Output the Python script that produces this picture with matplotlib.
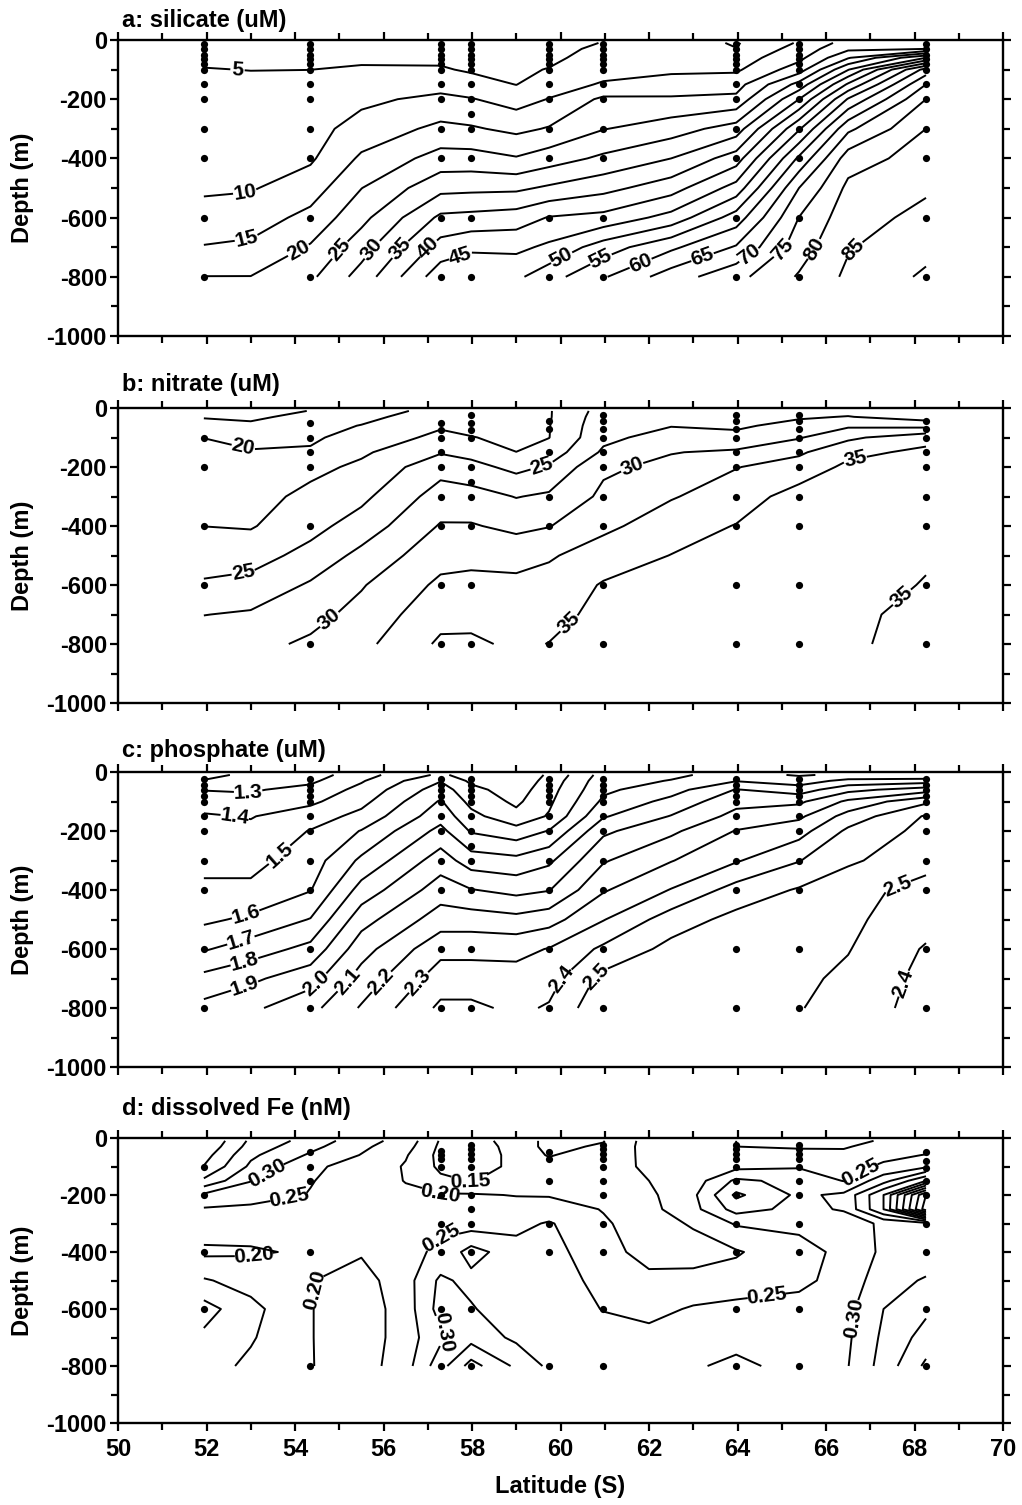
import numpy as np
import matplotlib
matplotlib.use('Agg')
from matplotlib import pyplot as plt
from matplotlib.ticker import MultipleLocator

plt.rcParams['font.family'] = ['Liberation Sans', 'DejaVu Sans']
plt.rcParams['font.weight'] = 'bold'
plt.rcParams['axes.unicode_minus'] = False

# stations (deg S) where samples were taken
STATION_LATS = [51.94, 54.35, 57.29, 57.98, 59.74, 60.97, 63.97, 65.39, 68.26]

# gridded section values (one list per latitude column)
GRID_LATS = [51.94, 53.0, 54.35, 55.5, 57.29, 57.98, 59.0, 59.74, 60.97, 62.5, 63.97, 65.39, 66.5, 68.26]
GRID_DEPTHS = [10, 30, 60, 100, 150, 200, 300, 400, 500, 600, 700, 800]

SILICATE = [
    [3.5, 4.0, 4.5, 5.1, 5.7, 6.3, 7.4, 8.5, 9.4, 11.5, 15.3, 20.1],
    [3.5, 4.0, 4.5, 4.95, 5.6, 6.2, 7.3, 8.4, 9.6, 12.5, 16.0, 20.1],
    [3.5, 4.0, 4.5, 4.98, 6.0, 6.8, 8.2, 9.3, 12.5, 16.5, 20.5, 24.0],
    [3.3, 3.6, 4.2, 5.5, 7.3, 8.9, 12.0, 15.8, 19.9, 23.5, 27.8, 32.0],
    [3.0, 3.3, 4.0, 5.5, 8.0, 11.3, 16.2, 22.0, 28.5, 36.0, 42.0, 48.0],
    [3.0, 3.3, 3.8, 4.4, 7.0, 10.3, 15.6, 22.0, 28.8, 36.5, 44.0, 49.5],
    [3.0, 3.3, 3.7, 4.2, 4.9, 7.9, 13.8, 20.4, 29.0, 37.4, 43.8, 49.0],
    [3.0, 3.5, 4.0, 5.2, 7.7, 10.2, 15.4, 22.6, 30.8, 40.3, 46.0, 53.0],
    [5.2, 6.0, 7.0, 8.2, 10.5, 16.0, 19.8, 26.0, 33.4, 41.5, 52.5, 59.5],
    [7.0, 7.5, 8.3, 9.3, 11.6, 15.8, 22.6, 30.0, 37.8, 46.8, 59.0, 67.5],
    [4.6, 5.1, 7.5, 9.2, 13.0, 16.2, 27.3, 37.5, 47.0, 57.3, 65.5, 73.5],
    [10.5, 12.0, 13.6, 17.6, 26.7, 35.0, 49.4, 61.0, 70.0, 75.1, 77.6, 80.5],
    [17.0, 19.0, 24.5, 34.7, 45.8, 55.5, 68.9, 77.6, 81.2, 82.9, 84.6, 86.0],
    [16.0, 20.0, 40.0, 62.0, 70.0, 75.0, 80.0, 82.2, 84.3, 86.4, 88.5, 90.8],
]

NITRATE = [
    [16.5, 17.3, 18.5, 19.98, 20.4, 20.8, 21.6, 22.48, 23.9, 25.3, 27.45, 29.0],
    [16.0, 17.0, 18.0, 19.2, 20.2, 20.7, 21.5, 22.3, 24.0, 25.8, 27.8, 29.3],
    [17.6, 18.3, 19.0, 19.6, 20.3, 21.8, 23.2, 24.2, 25.8, 27.8, 29.2, 30.4],
    [18.5, 19.2, 20.1, 21.0, 22.1, 23.0, 24.4, 26.1, 28.2, 29.8, 30.8, 31.8],
    [21.0, 21.6, 22.2, 23.1, 24.8, 26.6, 28.6, 30.2, 31.6, 33.0, 34.2, 35.4],
    [20.8, 21.3, 21.8, 22.6, 24.2, 25.8, 28.5, 30.2, 31.8, 33.2, 34.3, 35.4],
    [20.3, 20.8, 21.3, 21.9, 22.52, 24.3, 27.4, 29.4, 31.6, 33.1, 34.0, 34.6],
    [22.3, 22.3, 22.4, 22.45, 23.6, 25.3, 27.9, 29.9, 32.2, 33.5, 34.3, 35.05],
    [26.0, 26.3, 26.6, 26.9, 27.9, 29.6, 30.5, 31.9, 33.8, 35.2, 35.6, 35.8],
    [26.6, 27.0, 27.4, 28.5, 29.9, 30.6, 32.3, 33.9, 35.05, 35.5, 35.7, 35.8],
    [26.2, 26.6, 27.1, 28.2, 30.4, 32.4, 33.8, 35.1, 35.6, 35.8, 35.8, 35.8],
    [26.5, 27.2, 28.3, 29.8, 32.1, 33.6, 36.0, 35.8, 35.9, 35.8, 35.6, 35.4],
    [26.8, 27.6, 29.6, 32.0, 34.4, 35.5, 35.9, 36.0, 35.9, 35.7, 35.3, 35.2],
    [25.2, 26.3, 29.2, 34.2, 35.5, 35.6, 35.6, 35.4, 35.2, 34.9, 34.6, 34.55],
]

PHOSPHATE = [
    [1.15, 1.21, 1.295, 1.36, 1.41, 1.43, 1.47, 1.52, 1.58, 1.69, 1.83, 1.93],
    [1.24, 1.27, 1.29, 1.33, 1.395, 1.42, 1.47, 1.52, 1.62, 1.75, 1.88, 1.98],
    [1.25, 1.28, 1.33, 1.38, 1.45, 1.505, 1.55, 1.595, 1.705, 1.83, 1.96, 2.07],
    [1.36, 1.39, 1.43, 1.47, 1.53, 1.605, 1.72, 1.84, 1.96, 2.06, 2.14, 2.21],
    [1.52, 1.595, 1.65, 1.71, 1.76, 1.83, 1.95, 2.05, 2.15, 2.27, 2.35, 2.42],
    [1.45, 1.48, 1.53, 1.57, 1.63, 1.69, 1.85, 2.005, 2.15, 2.27, 2.35, 2.42],
    [1.4, 1.42, 1.45, 1.48, 1.53, 1.64, 1.83, 1.97, 2.13, 2.27, 2.34, 2.38],
    [1.52, 1.54, 1.56, 1.58, 1.61, 1.705, 1.88, 1.995, 2.16, 2.305, 2.36, 2.41],
    [1.74, 1.76, 1.78, 1.82, 1.89, 1.98, 2.09, 2.19, 2.295, 2.42, 2.53, 2.58],
    [1.78, 1.805, 1.86, 1.93, 2.005, 2.08, 2.195, 2.305, 2.45, 2.53, 2.56, 2.57],
    [1.84, 1.895, 2.005, 2.07, 2.13, 2.205, 2.29, 2.44, 2.53, 2.56, 2.57, 2.57],
    [1.79, 1.85, 1.95, 2.08, 2.18, 2.26, 2.395, 2.51, 2.54, 2.54, 2.52, 2.505],
    [1.82, 1.93, 2.07, 2.22, 2.34, 2.42, 2.495, 2.52, 2.52, 2.505, 2.48, 2.46],
    [1.805, 1.95, 2.15, 2.38, 2.51, 2.53, 2.52, 2.48, 2.44, 2.39, 2.37, 2.36],
]

FE_LATS = [51.94, 53.0, 54.35, 55.5, 56.5, 57.29, 57.98, 59.0, 59.74, 60.97, 62.0, 63.0, 63.97, 65.39, 66.4, 67.3, 68.26]
FE_DEPTHS = [10, 30, 60, 100, 150, 200, 250, 300, 400, 500, 600, 700, 800]
IRON = [
    [0.50, 0.49, 0.47, 0.448, 0.39, 0.29, 0.245, 0.23, 0.19, 0.255, 0.32, 0.29, 0.27],
    [0.39, 0.38, 0.36, 0.34, 0.302, 0.27, 0.24, 0.22, 0.195, 0.23, 0.265, 0.255, 0.24],
    [0.33, 0.315, 0.293, 0.255, 0.252, 0.248, 0.235, 0.225, 0.206, 0.202, 0.202, 0.202, 0.202],
    [0.27, 0.26, 0.248, 0.24, 0.23, 0.225, 0.22, 0.215, 0.205, 0.18, 0.17, 0.17, 0.175],
    [0.23, 0.22, 0.205, 0.195, 0.198, 0.21, 0.215, 0.22, 0.235, 0.23, 0.225, 0.225, 0.23],
    [0.145, 0.14, 0.135, 0.14, 0.16, 0.205, 0.225, 0.24, 0.26, 0.31, 0.32, 0.29, 0.33],
    [0.13, 0.12, 0.12, 0.13, 0.148, 0.205, 0.215, 0.225, 0.32, 0.285, 0.305, 0.33, 0.42],
    [0.17, 0.17, 0.165, 0.16, 0.165, 0.198, 0.22, 0.235, 0.27, 0.26, 0.265, 0.29, 0.34],
    [0.14, 0.14, 0.148, 0.16, 0.175, 0.197, 0.22, 0.255, 0.27, 0.275, 0.28, 0.285, 0.29],
    [0.148, 0.155, 0.165, 0.175, 0.185, 0.19, 0.198, 0.205, 0.215, 0.235, 0.248, 0.27, 0.28],
    [0.22, 0.22, 0.215, 0.21, 0.2, 0.19, 0.185, 0.18, 0.185, 0.21, 0.235, 0.265, 0.28],
    [0.22, 0.215, 0.21, 0.205, 0.225, 0.24, 0.235, 0.205, 0.18, 0.215, 0.255, 0.285, 0.295],
    [0.2, 0.2, 0.205, 0.235, 0.31, 0.36, 0.32, 0.255, 0.195, 0.22, 0.265, 0.285, 0.31],
    [0.18, 0.195, 0.215, 0.245, 0.285, 0.29, 0.285, 0.26, 0.235, 0.24, 0.265, 0.275, 0.285],
    [0.185, 0.196, 0.21, 0.225, 0.248, 0.31, 0.305, 0.27, 0.26, 0.265, 0.28, 0.285, 0.29],
    [0.205, 0.215, 0.235, 0.26, 0.33, 0.45, 0.45, 0.31, 0.31, 0.33, 0.35, 0.36, 0.37],
    [0.22, 0.23, 0.252, 0.29, 0.45, 0.75, 0.78, 0.33, 0.32, 0.355, 0.39, 0.42, 0.46],
]

# sample depths (m) at each station, per panel
SI_SAMPLES = [
    [15, 30, 50, 65, 80, 100, 150, 200, 300, 400, 600, 800],
    [15, 30, 50, 65, 80, 100, 150, 200, 300, 400, 600, 800],
    [15, 30, 50, 65, 80, 100, 150, 200, 300, 400, 600, 800],
    [15, 30, 50, 65, 80, 100, 150, 200, 250, 300, 400, 600, 800],
    [15, 30, 50, 65, 80, 100, 150, 200, 300, 400, 600, 800],
    [15, 30, 50, 65, 80, 100, 150, 200, 300, 400, 600, 800],
    [15, 30, 50, 65, 80, 100, 150, 200, 300, 400, 600, 800],
    [15, 30, 50, 65, 80, 100, 150, 200, 300, 400, 600, 800],
    [15, 30, 50, 65, 80, 100, 150, 200, 300, 400, 600, 800],
]
NO3_SAMPLES = [
    [100, 200, 400, 600],
    [50, 100, 150, 200, 400, 800],
    [50, 75, 100, 150, 200, 300, 400, 600, 800],
    [25, 50, 75, 100, 200, 250, 300, 400, 600, 800],
    [45, 70, 150, 300, 400, 800],
    [25, 45, 70, 100, 150, 200, 300, 400, 600, 800],
    [25, 45, 70, 100, 150, 200, 300, 400, 600, 800],
    [25, 45, 70, 100, 150, 200, 300, 400, 600, 800],
    [45, 70, 100, 150, 200, 300, 400, 600, 800],
]
PO4_SAMPLES = [
    [25, 45, 60, 80, 100, 150, 200, 300, 400, 600, 800],
    [25, 45, 60, 80, 100, 150, 200, 300, 400, 600, 800],
    [25, 45, 60, 80, 100, 150, 200, 300, 400, 600, 800],
    [25, 45, 60, 80, 100, 150, 200, 250, 300, 400, 600, 800],
    [25, 45, 60, 80, 100, 150, 200, 300, 400, 600, 800],
    [25, 45, 60, 80, 100, 150, 200, 300, 400, 600, 800],
    [25, 45, 60, 80, 100, 150, 200, 300, 400, 600, 800],
    [25, 45, 60, 80, 100, 150, 200, 300, 400, 600, 800],
    [25, 45, 60, 80, 100, 150, 200, 300, 400, 600, 800],
]
FE_SAMPLES = [
    [100, 200, 400, 600],
    [50, 100, 150, 400, 800],
    [45, 60, 75, 100, 200, 300, 400, 600, 800],
    [25, 40, 55, 75, 100, 200, 250, 300, 400, 600, 800],
    [50, 75, 150, 300, 400, 800],
    [25, 40, 55, 75, 100, 150, 200, 300, 400, 600, 800],
    [25, 40, 55, 75, 100, 150, 200, 300, 400, 600, 800],
    [25, 40, 55, 75, 100, 150, 200, 300, 400, 600, 800],
    [50, 80, 105, 150, 200, 300, 400, 600, 800],
]

SI_LEVELS = list(range(5, 95, 5))
NO3_LEVELS = [17.5, 20, 22.5, 25, 27.5, 30, 32.5, 35]
PO4_LEVELS = [1.2, 1.3, 1.4, 1.5, 1.6, 1.7, 1.8, 1.9, 2.0, 2.1, 2.2, 2.3, 2.4, 2.5]
FE_LEVELS = [0.10, 0.15, 0.20, 0.25, 0.30, 0.35, 0.40, 0.45, 0.50, 0.55, 0.60, 0.65, 0.70, 0.75]

# levels that carry labels, and where the labels sit (lat, depth)
SI_LABEL_LEVELS = list(range(5, 90, 5))
NO3_LABEL_LEVELS = [20, 25, 30, 35]
PO4_LABEL_LEVELS = [1.3, 1.4, 1.5, 1.6, 1.7, 1.8, 1.9, 2.0, 2.1, 2.2, 2.3, 2.4, 2.5]
FE_LABEL_LEVELS = [0.15, 0.20, 0.25, 0.30]
SI_LABELS = [(52.7, 101), (52.87, 516), (52.9, 666), (54.1, 716), (55.1, 720), (55.85, 720),
             (56.45, 716), (57.05, 709), (57.77, 743), (60.03, 737), (60.9, 737), (61.76, 737),
             (63.19, 726), (64.17, 709), (65.0, 703), (65.7, 703), (66.58, 703)]
NO3_LABELS = [(52.83, 134), (52.83, 555), (54.75, 712), (59.57, 191), (61.57, 179),
              (66.66, 174), (59.99, 700), (67.6, 622)]
PO4_LABELS = [(52.94, 79), (52.64, 150), (53.66, 282), (52.9, 491), (52.8, 582), (52.87, 650),
              (52.87, 729), (54.49, 717), (55.24, 717), (56.0, 717), (56.82, 717), (59.99, 700),
              (60.89, 706), (67.75, 435), (67.75, 717)]
FE_LABELS = [(53.43, 139), (53.89, 227), (53.06, 404), (54.34, 532), (57.28, 194), (57.95, 152),
             (57.28, 345), (57.4, 678), (64.66, 556), (66.77, 117), (66.69, 632)]

W, H = 1022, 1505
fig = plt.figure(figsize=(W / 100, H / 100), dpi=100)

panels = [
    # top px, bottom px, title, title y px, grid, values, levels, samples, labels
    (40, 336, 'a: silicate (uM)', 21, GRID_LATS, GRID_DEPTHS, SILICATE, SI_LEVELS, SI_SAMPLES,
     SI_LABELS, SI_LABEL_LEVELS, '%d'),
    (408, 703, 'b: nitrate (uM)', 384, GRID_LATS, GRID_DEPTHS, NITRATE, NO3_LEVELS, NO3_SAMPLES,
     NO3_LABELS, NO3_LABEL_LEVELS, '%g'),
    (772, 1067, 'c: phosphate (uM)', 751, GRID_LATS, GRID_DEPTHS, PHOSPHATE, PO4_LEVELS, PO4_SAMPLES,
     PO4_LABELS, PO4_LABEL_LEVELS, '%.1f'),
    (1138, 1423, 'd: dissolved Fe (nM)', 1109, FE_LATS, FE_DEPTHS, IRON, FE_LEVELS, FE_SAMPLES,
     FE_LABELS, FE_LABEL_LEVELS, '%.2f'),
]

for i, (top, bot, title, ty, lats, deps, cols, levels, samples, labpos, lablev, fmt) in enumerate(panels):
    ax = fig.add_axes([118 / W, 1 - bot / H, 885 / W, (bot - top) / H])
    z = np.array(cols).T
    yy = -np.array(deps)
    plain = [lv for lv in levels if not np.any(np.isclose(lv, lablev))]
    if plain:
        ax.contour(lats, yy, z, levels=plain, colors='black', linewidths=1.4)
    cs = ax.contour(lats, yy, z, levels=lablev, colors='black', linewidths=1.4)
    ax.clabel(cs, manual=[(x, -d) for x, d in labpos], fmt=fmt, fontsize=15,
              inline=True, inline_spacing=3)
    for lat, ds in zip(STATION_LATS, samples):
        ax.plot([lat] * len(ds), -np.array(ds), 'o', color='black', ms=5.2, mec='none')

    ax.set_xlim(50, 70)
    ax.set_ylim(-1000, 0)
    ax.xaxis.set_major_locator(MultipleLocator(2))
    ax.xaxis.set_minor_locator(MultipleLocator(1))
    ax.yaxis.set_major_locator(MultipleLocator(200))
    ax.yaxis.set_minor_locator(MultipleLocator(100))
    ax.tick_params(which='both', direction='out', top=True, right=True, width=1.6,
                   labelsize=17, labelbottom=(i == 3))
    ax.tick_params(which='major', length=6)
    ax.tick_params(which='minor', length=5)
    ax.tick_params(axis='y', pad=2)
    ax.tick_params(axis='x', pad=5)
    for s in ax.spines.values():
        s.set_linewidth(1.7)

    fig.text(122 / W, 1 - ty / H, title, fontsize=17, ha='left', va='center')
    fig.text(22 / W, 1 - (top + bot) / 2 / H, 'Depth (m)', fontsize=17, rotation=90,
             ha='center', va='center')

fig.text(560 / W, 1 - 1487 / H, 'Latitude (S)', fontsize=17, ha='center', va='center')

fig.savefig('out.png', dpi=100)
